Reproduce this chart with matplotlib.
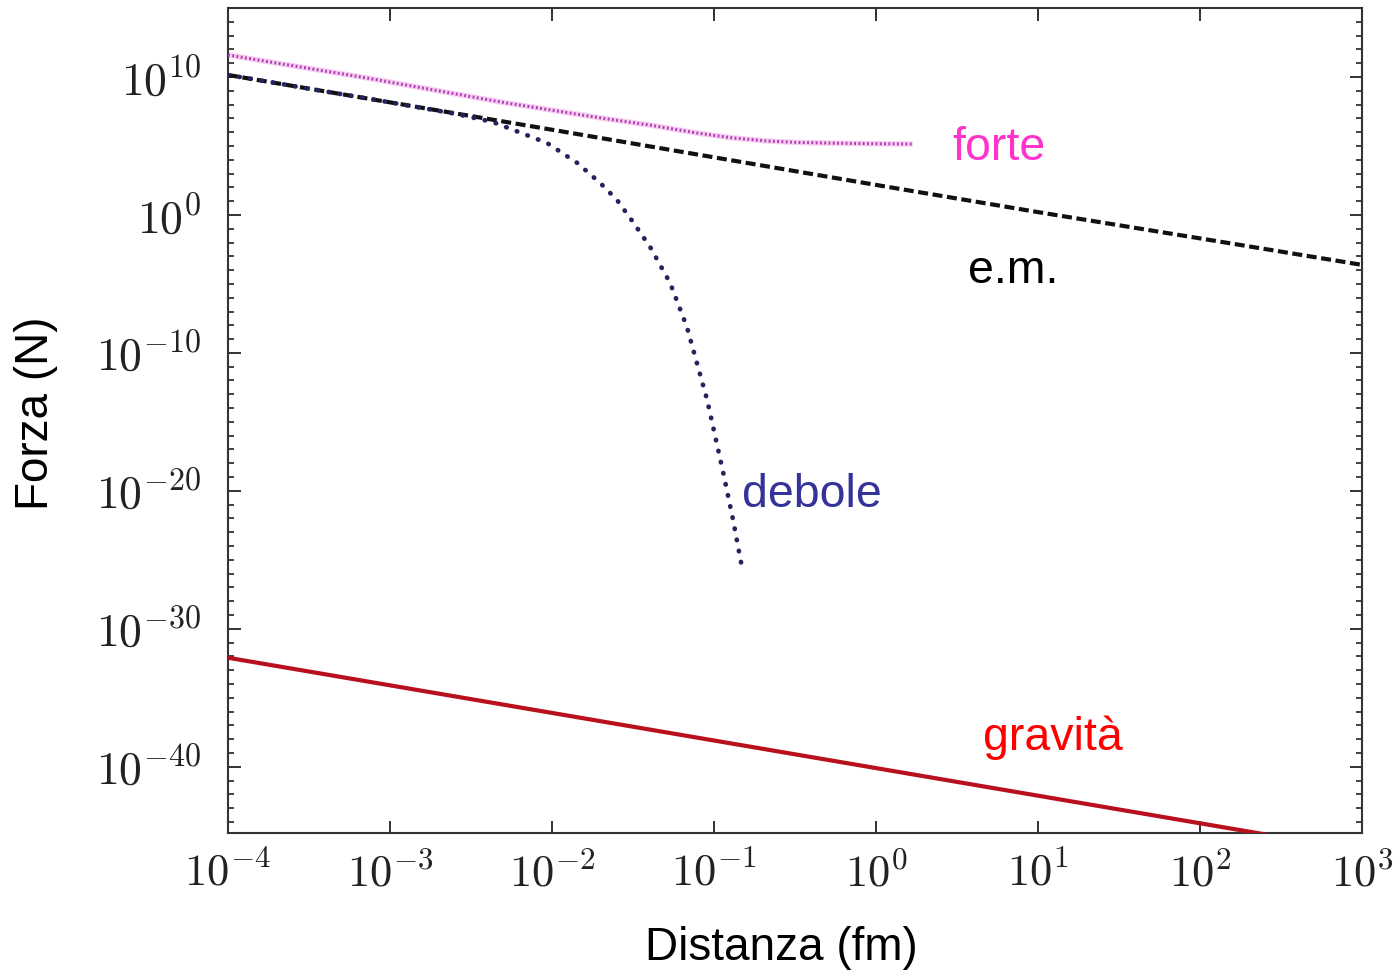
import numpy as np
import matplotlib
matplotlib.use("Agg")
import matplotlib.pyplot as plt
from matplotlib.ticker import NullLocator, NullFormatter

plt.rcParams['font.family'] = ['Liberation Sans', 'DejaVu Sans']
plt.rcParams['mathtext.fontset'] = 'cm'

# distance (fm) and force (N)
em_r = [1e-4, 1e-3, 1e-2, 1e-1, 1e0, 1e1, 1e2, 1e3]
em_f = [1.4e10, 1.45e8, 1.5e6, 1.5e4, 1.5e2, 1.6, 2.0e-2, 2.4e-4]

forte_r = [1.0e-4, 7.2e-4, 4.8e-3, 2.0e-2, 4.0e-2, 7.85e-2, 0.126, 0.212, 0.33, 0.543, 1.0, 1.69]
forte_f = [3.9e11, 8.5e9, 1.55e8, 1.07e7, 3.3e6, 8.7e5, 4.0e5, 2.3e5, 1.8e5, 1.6e5, 1.45e5, 1.38e5]

debole_r = [1e-4, 1e-3, 2.5e-3, 4.3e-3, 9.3e-3, 1.43e-2, 1.98e-2, 2.52e-2, 3.16e-2,
            4.03e-2, 5.35e-2, 6.8e-2, 9.06e-2, 0.114, 0.131, 0.149]
debole_f = [1.4e10, 1.45e8, 2.2e7, 5.5e6, 1.66e5, 5.9e3, 2.1e2, 12, 0.31,
            4.8e-3, 1.2e-5, 7.6e-9, 4e-14, 2e-19, 8e-23, 2.5e-26]

grav_r = [1e-4, 1e-3, 1e-2, 1e-1, 1e0, 1e1, 1e2, 1e3]
grav_f = [8e-33, 8e-35, 8e-37, 8e-39, 8e-41, 8e-43, 8e-45, 8e-47]

fig = plt.figure(figsize=(13.99, 9.77), dpi=100)
ax = fig.add_axes([0.163, 0.1474, 0.8106, 0.8444])

# strong force: faint pink halo + fine dots
ax.plot(forte_r, forte_f, color='#f7d0f1', lw=4.0, solid_capstyle='butt', zorder=2)
ax.plot(forte_r, forte_f, color='#b03ab6', lw=2.2, linestyle=(0, (0.6, 0.8)), zorder=3)
# e.m.
ax.plot(em_r, em_f, color='#111111', lw=3.0, linestyle=(0, (2.4, 1.1)), zorder=3)
# weak
ax.plot(debole_r, debole_f, color='#23235e', lw=3.4, linestyle=(0, (0.1, 2.3)),
        dash_capstyle='round', zorder=4)
# gravity
ax.plot(grav_r, grav_f, color='#b8101c', lw=3.0, zorder=3)

ax.set_xscale('log')
ax.set_yscale('log')
ax.set_xlim(1e-4, 1e3)
ax.set_ylim(10**-44.8, 10**15)

ax.set_xticks([10.0**k for k in range(-4, 4)])
ax.xaxis.set_minor_locator(NullLocator())
ax.set_yticks([10.0**k for k in range(-40, 11, 10)])
ax.set_yticks([10.0**k for k in range(-44, 15)], minor=True)
ax.yaxis.set_minor_formatter(NullFormatter())
ax.set_yticklabels([r'$10^{%d}$' % k for k in range(-40, 11, 10)])
ax.set_xticklabels([r'$10^{%d}$' % k for k in range(-4, 4)])

ax.tick_params(which='both', direction='in', top=True, right=True, colors='#222222')
ax.tick_params(which='major', length=9, width=1.3)
ax.tick_params(which='minor', length=4.5, width=1.2)
ax.tick_params(axis='y', which='major', labelsize=33, pad=19)
ax.tick_params(axis='x', which='major', labelsize=32, pad=14)
for s in ax.spines.values():
    s.set_linewidth(1.5)
    s.set_color('#333333')

ax.set_xlabel('Distanza (fm)', fontsize=33, va='center')
ax.xaxis.set_label_coords(0.488, -0.139)
ax.set_ylabel('Forza (N)', fontsize=33, va='center')
ax.yaxis.set_label_coords(-0.169, 0.509)

ax.text(2.94, 1e4, 'forte', color='#ff33cc', fontsize=33.5, ha='left', va='baseline')
ax.text(3.7, 10**-4.93, 'e.m.', color='black', fontsize=33.5, ha='left', va='baseline')
ax.text(0.149, 10**-21.16, 'debole', color='#333399', fontsize=33.5, ha='left', va='baseline')
ax.text(4.57, 10**-38.77, 'gravità', color='#ff0000', fontsize=33.5, ha='left', va='baseline')

fig.savefig('out.png', dpi=100)
